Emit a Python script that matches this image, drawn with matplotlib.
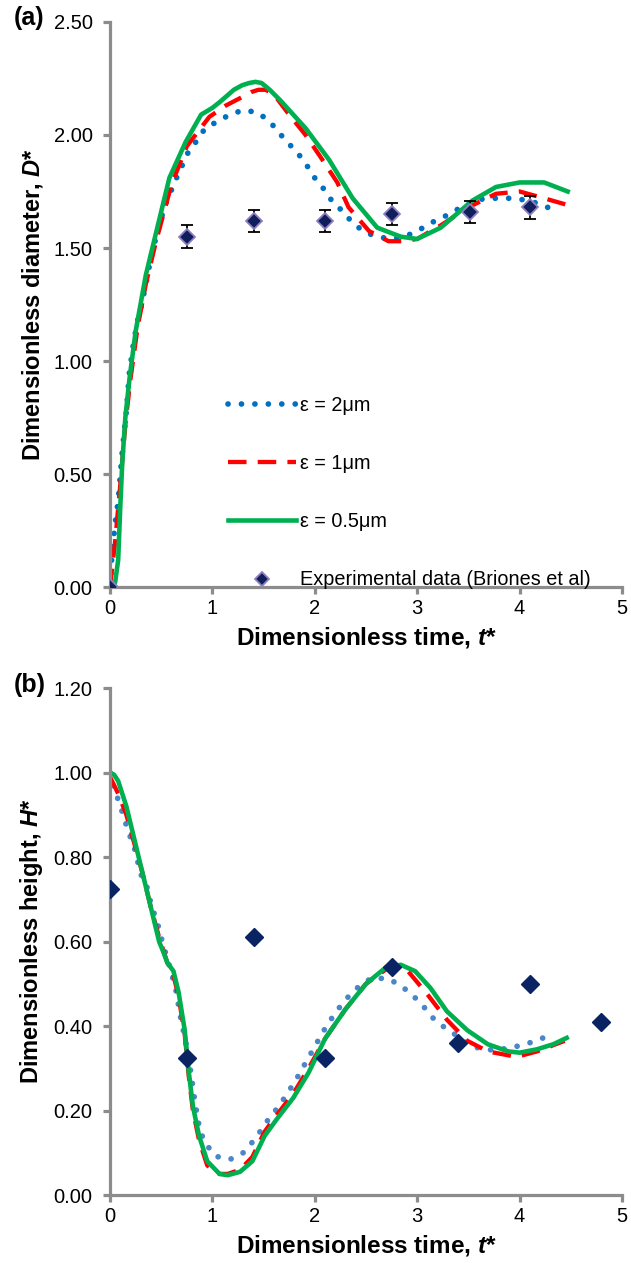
import numpy as np
import matplotlib
matplotlib.use('Agg')
import matplotlib.pyplot as plt

plt.rcParams['font.family'] = ['Liberation Sans', 'DejaVu Sans']
plt.rcParams['mathtext.fontset'] = 'custom'
plt.rcParams['mathtext.bfit'] = 'Liberation Sans:italic:bold'

# =========================
# DATA (a) diameter
# =========================
t_d2 = [0, 0.02, 0.05, 0.08, 0.12, 0.16, 0.19, 0.23, 0.27, 0.31, 0.41, 0.53, 0.64, 0.76, 0.84,
        0.93, 1.05, 1.17, 1.30, 1.44, 1.56, 1.65, 1.75, 1.85, 1.93, 2.0, 2.09, 2.18, 2.28, 2.37,
        2.49, 2.61, 2.74, 2.88, 3.02, 3.13, 3.27, 3.39, 3.52, 3.66, 3.79, 3.93, 4.09, 4.22, 4.38]
d_2um = [0, 0.15, 0.28, 0.38, 0.60, 0.78, 0.95, 1.08, 1.18, 1.25, 1.48, 1.68, 1.80, 1.92, 1.97,
         2.03, 2.06, 2.09, 2.11, 2.10, 2.06, 2.01, 1.96, 1.91, 1.86, 1.81, 1.76, 1.70, 1.66, 1.61,
         1.57, 1.55, 1.54, 1.55, 1.58, 1.61, 1.64, 1.67, 1.70, 1.72, 1.72, 1.72, 1.71, 1.69, 1.66]

t_d1 = [0, 0.05, 0.10, 0.15, 0.20, 0.27, 0.35, 0.45, 0.60, 0.75, 0.97, 1.13, 1.30, 1.38, 1.45,
        1.52, 1.60, 1.75, 1.91, 2.06, 2.22, 2.33, 2.53, 2.72, 2.86, 3.0, 3.23, 3.50, 3.77, 4.0,
        4.24, 4.47]
d_1um = [0, 0.20, 0.45, 0.72, 0.92, 1.15, 1.34, 1.53, 1.78, 1.95, 2.08, 2.13, 2.17, 2.19, 2.20,
         2.20, 2.18, 2.09, 2.00, 1.90, 1.79, 1.68, 1.575, 1.53, 1.53, 1.54, 1.60, 1.68, 1.74, 1.75,
         1.72, 1.69]

t_d05 = [0, 0.03, 0.05, 0.08, 0.10, 0.12, 0.15, 0.19, 0.25, 0.35, 0.43, 0.58, 0.74, 0.89, 1.0,
         1.07, 1.21, 1.29, 1.36, 1.42, 1.48, 1.56, 1.67, 1.91, 2.14, 2.37, 2.61, 2.84, 3.0, 3.23,
         3.54, 3.77, 4.0, 4.24, 4.47]
d_05um = [0, 0.005, 0.02, 0.12, 0.35, 0.55, 0.75, 0.92, 1.13, 1.38, 1.53, 1.81, 1.97, 2.09, 2.12,
          2.145, 2.20, 2.22, 2.23, 2.235, 2.23, 2.20, 2.15, 2.03, 1.89, 1.72, 1.59, 1.55, 1.54, 1.59,
          1.71, 1.77, 1.79, 1.79, 1.75]

t_exp_d = [0, 0.75, 1.41, 2.10, 2.75, 3.52, 4.10]
d_exp = [0, 1.55, 1.62, 1.62, 1.65, 1.66, 1.68]
d_err = [0, 0.05, 0.05, 0.05, 0.05, 0.05, 0.05]

# =========================
# DATA (b) height
# =========================
t_h2 = [0, 0.04, 0.09, 0.14, 0.18, 0.24, 0.30, 0.36, 0.40, 0.44, 0.48, 0.52, 0.56, 0.64, 0.69,
        0.75, 0.79, 0.83, 0.88, 0.94, 1.03, 1.17, 1.30, 1.40, 1.48, 1.56, 1.65, 1.73, 1.81, 1.88,
        1.95, 2.02, 2.09, 2.17, 2.25, 2.34, 2.45, 2.56, 2.72, 2.85, 2.96, 3.06, 3.15, 3.26, 3.37,
        3.49, 3.63, 3.77, 3.92, 4.06, 4.20, 4.33]
h_2um = [1.0, 0.96, 0.93, 0.89, 0.86, 0.82, 0.76, 0.73, 0.69, 0.66, 0.63, 0.59, 0.56, 0.49, 0.42,
         0.35, 0.29, 0.22, 0.15, 0.12, 0.092, 0.084, 0.10, 0.128, 0.155, 0.184, 0.21, 0.24, 0.27, 0.30,
         0.33, 0.36, 0.39, 0.42, 0.447, 0.473, 0.498, 0.514, 0.512, 0.494, 0.472, 0.447, 0.42, 0.398, 0.38,
         0.358, 0.345, 0.343, 0.349, 0.357, 0.369, 0.382]

t_h1 = [0, 0.04, 0.08, 0.16, 0.24, 0.32, 0.40, 0.48, 0.52, 0.56, 0.62, 0.67, 0.73, 0.77, 0.81,
        0.87, 0.95, 1.07, 1.15, 1.27, 1.39, 1.51, 1.63, 1.79, 1.94, 2.10, 2.30, 2.50, 2.70, 2.80,
        2.90, 3.10, 3.29, 3.49, 3.69, 3.97, 4.17, 4.44]
h_1um = [0.99, 0.97, 0.95, 0.90, 0.83, 0.76, 0.68, 0.61, 0.58, 0.55, 0.52, 0.47, 0.38, 0.28, 0.20,
         0.13, 0.07, 0.05, 0.05, 0.06, 0.09, 0.15, 0.19, 0.24, 0.30, 0.37, 0.44, 0.50, 0.535, 0.54,
         0.533, 0.475, 0.415, 0.365, 0.34, 0.327, 0.34, 0.365]

t_h05 = [0, 0.04, 0.08, 0.16, 0.24, 0.32, 0.40, 0.48, 0.52, 0.56, 0.62, 0.67, 0.73, 0.77, 0.81,
         0.87, 0.95, 1.07, 1.15, 1.27, 1.39, 1.51, 1.63, 1.79, 1.94, 2.10, 2.30, 2.50, 2.70, 2.84,
         2.98, 3.13, 3.29, 3.49, 3.69, 3.89, 4.0, 4.17, 4.33, 4.46]
h_05um = [1.0, 0.995, 0.98, 0.92, 0.84, 0.76, 0.68, 0.60, 0.576, 0.55, 0.53, 0.48, 0.39, 0.29, 0.21,
          0.14, 0.08, 0.05, 0.047, 0.055, 0.08, 0.14, 0.18, 0.23, 0.29, 0.37, 0.44, 0.50, 0.54, 0.545,
          0.53, 0.49, 0.435, 0.39, 0.357, 0.34, 0.337, 0.345, 0.357, 0.372]

t_exp_h = [0, 0.75, 1.41, 2.10, 2.75, 3.40, 4.10, 4.80]
h_exp = [0.725, 0.325, 0.61, 0.325, 0.54, 0.36, 0.50, 0.41]

labels = ['ε = 2μm', 'ε = 1μm', 'ε = 0.5μm', 'Experimental data (Briones et al)']

# =========================
# STYLE
# =========================
AX_GRAY = '#8c8c8c'
NAVY = '#0f1f5c'
dot_style = dict(linestyle=(0, (0.01, 2.35)), lw=4.1, dash_capstyle='round')
dash_style = dict(linestyle=(0, (4.3, 2.6)), lw=3.1)
solid_style = dict(linestyle='-', lw=3.3, solid_joinstyle='round')


def style_axes(ax):
    for s in ['top', 'right']:
        ax.spines[s].set_visible(False)
    for s in ['left', 'bottom']:
        ax.spines[s].set_color(AX_GRAY)
        ax.spines[s].set_linewidth(2.3)
    ax.tick_params(direction='out', length=5, width=2.3, color=AX_GRAY,
                   labelsize=14.5, labelcolor='black')
    ax.tick_params(axis='y', pad=7.5)
    ax.set_xlim(0, 5)
    ax.set_xticks(range(6))


fig = plt.figure(figsize=(6.31, 12.63), dpi=100)

# =========================
# (a)
# =========================
ax1 = fig.add_axes([0.1743, 0.5352, 0.8114, 0.4474])
ax1.plot(t_d2, d_2um, color='#0070c0', label=labels[0], **dot_style)
ax1.plot(t_d1, d_1um, color='#ff0000', label=labels[1], **dash_style)
ax1.plot(t_d05, d_05um, color='#00b050', label=labels[2], **solid_style)
ax1.errorbar(t_exp_d, d_exp, yerr=d_err, fmt='none', ecolor='black',
             elinewidth=1.3, capsize=4, capthick=1.3, zorder=4)
ax1.plot(t_exp_d, d_exp, 'D', ms=8.5, mfc=NAVY, mec='#8f7fc0', mew=1.3,
         linestyle='none', label=labels[3], zorder=5)
style_axes(ax1)
ax1.set_ylim(0, 2.5)
ax1.set_yticks(np.arange(0, 2.51, 0.5))
ax1.yaxis.set_major_formatter(matplotlib.ticker.FormatStrFormatter('%.2f'))
ax1.set_xlabel(r'Dimensionless time, $\mathbfit{t}$*', fontsize=17.5, fontweight='bold', labelpad=5)
ax1.set_ylabel(r'Dimensionless diameter, $\mathbfit{D}$*', fontsize=17, fontweight='bold', labelpad=6)
ax1.legend(loc='upper left', bbox_to_anchor=(0.215, 0.353), frameon=False, fontsize=14.3,
           handlelength=3.4, labelspacing=1.98, handletextpad=0.2, borderaxespad=0,
           markerscale=0.8)

# =========================
# (b)
# =========================
ax2 = fig.add_axes([0.1743, 0.0538, 0.8114, 0.4014])
ax2.plot(t_h2, h_2um, color='#4a86c8', **dot_style)
ax2.plot(t_h1, h_1um, color='#ff0000', **dash_style)
ax2.plot(t_h05, h_05um, color='#00b050', **solid_style)
ax2.plot(t_exp_h, h_exp, 'D', ms=9.5, mfc='#0a2463', mec='#0a2463', linestyle='none', zorder=5)
style_axes(ax2)
ax2.set_ylim(0, 1.2)
ax2.set_yticks(np.arange(0, 1.21, 0.2))
ax2.yaxis.set_major_formatter(matplotlib.ticker.FormatStrFormatter('%.2f'))
ax2.set_xlabel(r'Dimensionless time, $\mathbfit{t}$*', fontsize=17.5, fontweight='bold', labelpad=5)
ax2.set_ylabel(r'Dimensionless height, $\mathbfit{H}$*', fontsize=17, fontweight='bold', labelpad=6)

fig.text(0.022, 1 - 18 / 1263, '(a)', fontsize=18, fontweight='bold', va='center')
fig.text(0.022, 1 - 685 / 1263, '(b)', fontsize=18, fontweight='bold', va='center')

fig.savefig('out.png', dpi=100)
